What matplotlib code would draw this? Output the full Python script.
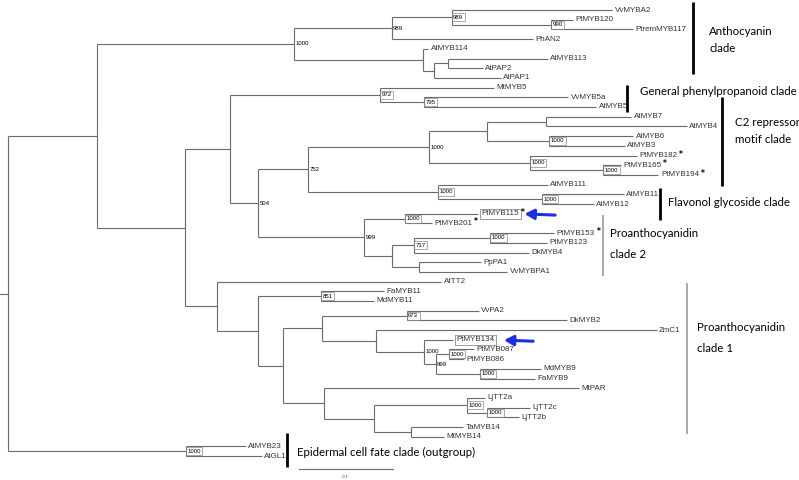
import matplotlib
matplotlib.use("Agg")
import matplotlib.pyplot as plt

# Neighbour-joining tree in Newick pieces: branch lengths in substitutions/site,
# bootstrap support (of 1000) as internal node labels
anthocyanin = ("(((VvMYBA2:0.171,(PtMYB120:0.023,PtremMYB117:0.087)990:0.106)989:0.064,PhAN2:0.150)989:0.104,"
               "(AtMYB114:0.005,((AtMYB113:0.106,AtPAP2:0.037):0.015,AtPAP1:0.071):0.011):0.138)1000")
phenylpropanoid = "(MtMYB5:0.121,(VvMYB5a:0.153,AtMYB5:0.183)795:0.047)972"
c2_repressor = ("(((AtMYB7:0.091,AtMYB4:0.150):0.062,(AtMYB6:0.089,AtMYB3:0.080)1000:0.066):0.062,"
                "(PtMYB182:0.114,(PtMYB165:0.019,PtMYB194:0.059)1000:0.078)1000:0.107)1000")
flavonol = "(AtMYB111:0.117,(AtMYB11:0.087,AtMYB12:0.055)1000:0.111)1000"
pa_clade2 = ("((PtMYB115:0.078,PtMYB201:0.029)1000:0.043,(((PtMYB153:0.068,PtMYB123:0.060)1000:0.081,"
             "DkMYB4:0.122)717:0.023,(PpPA1:0.066,VvMYBPA1:0.094):0.028):0.030)999")
pa_clade1a = ("((VvPA2:0.077,DkMYB2:0.171)673:0.090,(ZmC1:0.299,(PtMYB134:0.030,((PtMYB087:0.027,"
              "PtMYB086:0.016)1000:0.014,(MdMYB9:0.065,FaMYB9:0.059)1000:0.047)999:0.012)1000:0.052):0.057)")
pa_clade1b = ("(MtPAR:0.271,((LjTT2a:0.019,(LjTT2c:0.045,LjTT2b:0.034)1000:0.022)1000:0.099,"
              "(TaMYB14:0.055,MtMYB14:0.035):0.040):0.053)")
pa_clade1 = ("(AtTT2:0.239,((FaMYB11:0.067,MdMYB11:0.056)851:0.067,(" + pa_clade1a + ":0.041,"
             + pa_clade1b + ":0.043):0.027):0.044)")
outgroup = "(AtMYB23:0.064,AtGL1:0.081)1000"

TREE = ("((" + anthocyanin + ":0.209,((" + phenylpropanoid + ":0.160,((" + c2_repressor + ":0.129,"
        + flavonol + ":0.138)752:0.053," + pa_clade2 + ":0.113)504:0.030):0.048,"
        + pa_clade1 + ":0.034):0.093):0.095," + outgroup + ":0.189);")

highlighted = ["PtMYB115", "PtMYB134"]
starred = ["PtMYB115", "PtMYB201", "PtMYB153", "PtMYB182", "PtMYB165", "PtMYB194"]
clade_names = [
    "Anthocyanin\nclade",
    "General phenylpropanoid clade",
    "C2 repressor\nmotif clade",
    "Flavonol glycoside clade",
    "Proanthocyanidin\nclade 2",
    "Proanthocyanidin\nclade 1",
    "Epidermal cell fate clade (outgroup)",
]
scale_length = 0.1

# clade bars in pixels: bar x, bar top, bar bottom, text x, text y, line spacing, bar colour, bar width
clade_layout = [
    (693, 2, 74, 709, 40, 1.65, "black", 2.0),
    (627, 85, 112, 640, 91, 1.2, "black", 2.0),
    (722, 97, 186, 735, 131, 1.7, "black", 2.0),
    (660, 188, 220, 668, 203, 1.2, "black", 2.0),
    (603, 215, 276, 610, 244, 2.1, "#999999", 1.2),
    (687, 283, 434, 697, 338, 2.05, "#999999", 1.2),
    (287, 433, 467, 297, 452, 1.2, "black", 2.0),
]

W, H = 799, 480
X0, XSCALE = 8, 940.0
Y0, YSTEP = 10, 9.7
LINE = "#6a6a6a"


def to_data(px, py):
    return (px - X0) / XSCALE, (py - Y0) / YSTEP


def parse_newick(s):
    pos = 0

    def node():
        nonlocal pos
        n = {"children": [], "name": "", "length": 0.0}
        if s[pos] == "(":
            pos += 1
            n["children"].append(node())
            while s[pos] == ",":
                pos += 1
                n["children"].append(node())
            pos += 1
        start = pos
        while s[pos] not in ":,);":
            pos += 1
        n["name"] = s[start:pos]
        if s[pos] == ":":
            pos += 1
            start = pos
            while s[pos] not in ",);":
                pos += 1
            n["length"] = float(s[start:pos])
        return n

    return node()


leaves = []


def layout(n, x):
    n["x"] = x + n["length"]
    if n["children"]:
        for c in n["children"]:
            layout(c, n["x"])
        n["y"] = (n["children"][0]["y"] + n["children"][-1]["y"]) / 2
    else:
        n["y"] = len(leaves)
        leaves.append(n)


root = parse_newick(TREE)
layout(root, 0.0)

fig = plt.figure(figsize=(W / 100, H / 100), dpi=100)
ax = fig.add_axes([0, 0, 1, 1])
ax.set_xlim(-X0 / XSCALE, (W - X0) / XSCALE)
ax.set_ylim((H - Y0) / YSTEP, -Y0 / YSTEP)
ax.axis("off")


def draw(n):
    kids = n["children"]
    if not kids:
        t = ax.text(n["x"] + 2.5 / XSCALE, n["y"], n["name"], fontsize=5.8, va="center", ha="left",
                    color="#333333", family="Liberation Sans")
        if n["name"] in highlighted:
            t.set_bbox(dict(boxstyle="square,pad=0.2", fc="white", ec="#8a8a8a", lw=0.6))
            t.set_x(n["x"] + 3.5 / XSCALE)
        if n["name"] in starred:
            ax.annotate("*", xy=(1, 1), xycoords=t, xytext=(1.2, -1.5), textcoords="offset points",
                        fontsize=5.5, ha="left", va="center", color="black", fontweight="bold")
        if n["name"] == "PtMYB115":
            ax.annotate("", xy=(1, 0.5), xycoords=t, xytext=(26, -1), textcoords="offset points",
                        arrowprops=dict(arrowstyle="-|>,head_length=0.55,head_width=0.3",
                                        color="#1c2fe0", lw=2.2, shrinkA=0, shrinkB=4))
        if n["name"] == "PtMYB134":
            ax.annotate("", xy=(1, 0.5), xycoords=t, xytext=(28, -1), textcoords="offset points",
                        arrowprops=dict(arrowstyle="-|>,head_length=0.55,head_width=0.3",
                                        color="#1c2fe0", lw=2.2, shrinkA=0, shrinkB=7))
        return
    ax.plot([n["x"], n["x"]], [kids[0]["y"], kids[-1]["y"]], color=LINE, lw=0.8, solid_capstyle="butt")
    for c in kids:
        ax.plot([n["x"], c["x"]], [c["y"], c["y"]], color=LINE, lw=0.8, solid_capstyle="butt")
        draw(c)
    if n["name"]:
        span = kids[-1]["y"] - kids[0]["y"]
        bb = None
        if span <= 1.6:
            bb = dict(boxstyle="square,pad=0.25", fc="none", ec="#8a8a8a", lw=0.5)
        ax.text(n["x"] + 1.5 / XSCALE, n["y"], n["name"], fontsize=4.3, va="center", ha="left",
                color="black", family="Liberation Sans", bbox=bb)


# root stub
ax.plot([-X0 / XSCALE, 0], [root["y"], root["y"]], color=LINE, lw=0.8)
draw(root)

# clade bars and names
for name, (bx, btop, bbot, tx, ty, ls, col, lw) in zip(clade_names, clade_layout):
    x1, y1 = to_data(bx, btop)
    _, y2 = to_data(bx, bbot)
    ax.plot([x1, x1], [y1, y2], color=col, lw=lw, solid_capstyle="butt")
    txd, tyd = to_data(tx, ty)
    ax.text(txd, tyd, name, fontsize=8.3, family="Lato", va="center", ha="left",
            color="black", linespacing=ls)

# scale bar
sx, sy = to_data(299, 469)
ax.plot([sx, sx + scale_length], [sy, sy], color=LINE, lw=0.8)
lx, ly = to_data(345, 477)
ax.text(lx, ly, f"{scale_length}", fontsize=3.2, ha="center", va="center", color="#555555")

fig.savefig("out.png", dpi=100)
